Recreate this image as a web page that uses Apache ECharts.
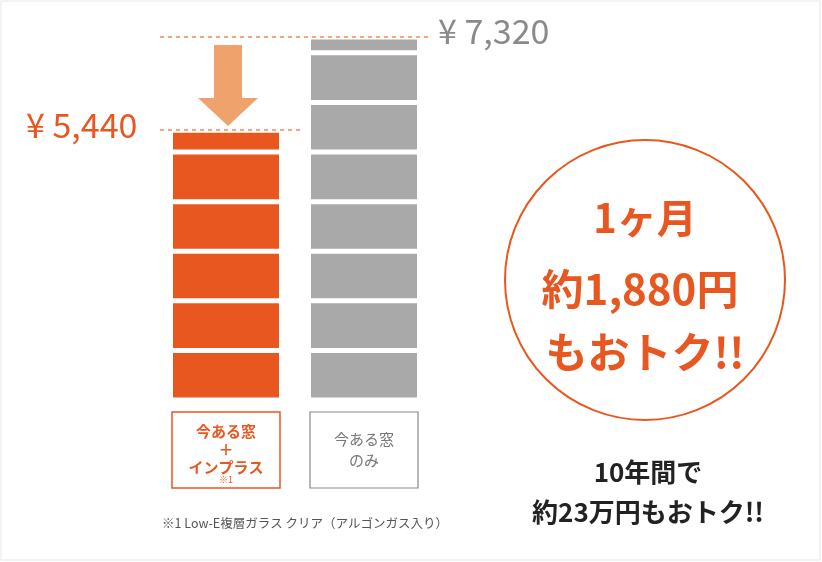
<!DOCTYPE html>
<html><head><meta charset="utf-8">
<script src="https://cdn.jsdelivr.net/npm/echarts@6/dist/echarts.min.js"></script>
<style>html,body{margin:0;background:#fff}#c{width:822px;height:562px}</style></head>
<body><div id="c"></div>
<script>
const categories = ['inplus', 'current'];
const orangeSegments = [1000, 1000, 1000, 1000, 1000, 440];
const graySegments = [1000, 1000, 1000, 1000, 1000, 1000, 1000, 320];
const totals = [5440, 7320];
const ORANGE = '#e8571f', GRAY = '#a9a9a9';
const F = '"Noto Sans CJK JP", "Noto Sans", sans-serif';

const series = [];
for (let i = 0; i < graySegments.length; i++) {
  series.push({
    type: 'bar', stack: 's', barWidth: 111, silent: true,
    data: [
      orangeSegments[i] !== undefined ? {value: orangeSegments[i], itemStyle: {color: ORANGE}} : {value: 0},
      {value: graySegments[i], itemStyle: {color: GRAY}}
    ],
    itemStyle: {borderColor: '#fff', borderWidth: 2.5}
  });
}
series[0].markLine = {
  silent: true, symbol: 'none', label: {show: false},
  lineStyle: {color: '#f08a5a', type: [4, 4], width: 1.5},
  data: [
    [{xAxis: 0, yAxis: totals[1], x: 160}, {xAxis: 1, yAxis: totals[1], x: 430}],
    [{xAxis: 0, yAxis: totals[0], x: 160}, {xAxis: 1, yAxis: totals[0], x: 300}]
  ]
};
const chart = echarts.init(document.getElementById('c'));
chart.setOption({
  animation: false,
  grid: {left: 157, width: 276, top: 37, bottom: 162},
  xAxis: {type: 'category', data: categories, show: false},
  yAxis: {type: 'value', min: 0, max: totals[1], show: false},
  series,
  graphic: [
    {type: 'rect', shape: {x: 1, y: 1, width: 819, height: 559}, style: {fill: 'none', stroke: '#e6e6e6', lineWidth: 1}, silent: true},
    {type: 'polygon', shape: {points: [[214, 45], [242, 45], [242, 98], [258, 98], [228, 126], [198, 98], [214, 98]]}, style: {fill: '#f0a26c'}},
    {type: 'text', left: 438, top: 14, style: {text: '¥ 7,320', fill: '#8a8a8a', font: '34px ' + F}},
    {type: 'text', left: 26, top: 108, style: {text: '¥ 5,440', fill: ORANGE, font: '34px ' + F}},
    {type: 'rect', shape: {x: 172, y: 412, width: 108, height: 76}, style: {fill: 'none', stroke: ORANGE, lineWidth: 1.5}},
    {type: 'text', x: 226, y: 449, style: {text: '今ある窓\n＋\nインプラス', fill: ORANGE, font: 'bold 15px ' + F, align: 'center', verticalAlign: 'middle', lineHeight: 18}},
    {type: 'text', x: 226, y: 480, style: {text: '※1', fill: ORANGE, font: '9px ' + F, align: 'center', verticalAlign: 'middle'}},
    {type: 'rect', shape: {x: 310, y: 412, width: 108, height: 76}, style: {fill: 'none', stroke: '#888', lineWidth: 1.2}},
    {type: 'text', x: 364, y: 450, style: {text: '今ある窓\nのみ', fill: '#777', font: '15px ' + F, align: 'center', verticalAlign: 'middle', lineHeight: 21}},
    {type: 'text', x: 305, y: 523, style: {text: '※1 Low-E複層ガラス クリア（アルゴンガス入り）', fill: '#555', font: '12.5px ' + F, align: 'center', verticalAlign: 'middle'}},
    {type: 'circle', shape: {cx: 645, cy: 280, r: 140}, style: {fill: '#fff', stroke: ORANGE, lineWidth: 2}},
    {type: 'text', x: 645, y: 218, style: {text: '1ヶ月', fill: ORANGE, font: 'bold 40px ' + F, align: 'center', verticalAlign: 'middle'}},
    {type: 'text', x: 640, y: 289, style: {text: '約1,880円', fill: ORANGE, font: 'bold 42px ' + F, align: 'center', verticalAlign: 'middle'}},
    {type: 'text', x: 645, y: 352, style: {text: 'もおトク!!', fill: ORANGE, font: 'bold 42px ' + F, align: 'center', verticalAlign: 'middle'}},
    {type: 'text', x: 648, y: 492, style: {text: '10年間で\n約23万円もおトク!!', fill: '#222', font: 'bold 26px ' + F, align: 'center', verticalAlign: 'middle', lineHeight: 40}}
  ]
});
</script></body></html>
